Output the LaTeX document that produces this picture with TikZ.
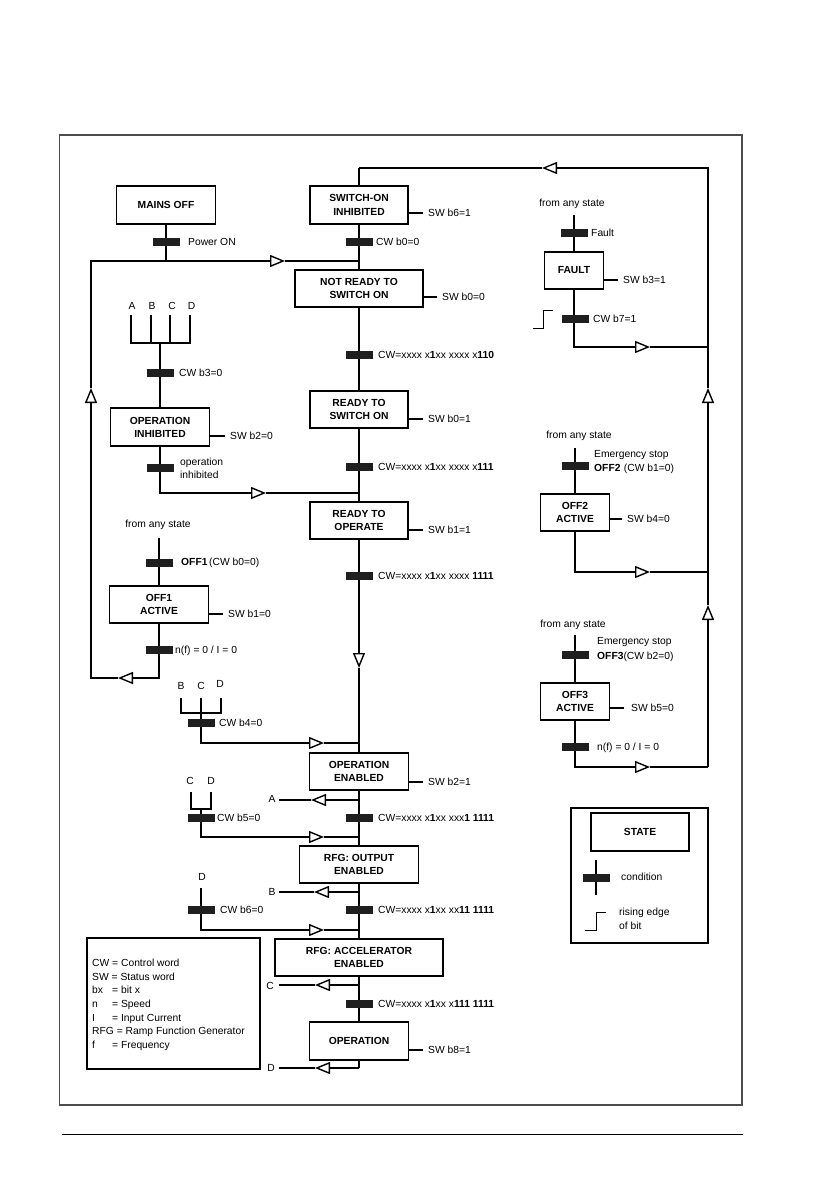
\documentclass[tikz,border=0pt]{standalone}
\usepackage{fontspec}
\setmainfont{Liberation Sans}
\usetikzlibrary{arrows.meta,calc}
\newcommand{\dgfont}{\fontsize{10.3}{13.2}\selectfont}
\begin{document}
\begin{tikzpicture}[x=1pt,y=-1pt,
  every node/.style={font=\dgfont},
  box/.style={draw,line width=1.9pt,font=\dgfont\bfseries,align=center,inner sep=0pt},
  cond/.style={fill=black!88,minimum width=27pt,minimum height=8pt,inner sep=0pt},
  lbl/.style={anchor=west,inner sep=0pt,text height=7.2pt,text depth=0pt},
  ctr/.style={inner sep=0pt,text height=7.2pt,text depth=0pt},
  swl/.style={anchor=west,inner xsep=5pt,inner ysep=0pt,text height=7.2pt,text depth=0pt},
  ln/.style={line width=1.7pt},
  thn/.style={line width=1.2pt},
  tri/.style={-{Triangle[open,length=15pt,width=12pt,line width=1.4pt]}},
]
\useasboundingbox (0,0) rectangle (839,1191);
% frame and footer
\draw[line width=1.5pt,black!70] (59.5,135) rectangle (742,1105);
\draw[line width=1pt] (62,1134) -- (743,1134);

% ---------- state boxes
\node[box,minimum width=99pt,minimum height=38pt] (mainsoff) at (166,205) {MAINS OFF};
\node[box,minimum width=98pt,minimum height=38pt] (soi) at (359,205) {SWITCH-ON\\INHIBITED};
\node[box,minimum width=128pt,minimum height=37pt] (nrsw) at (359,288.5) {NOT READY TO\\SWITCH ON};
\node[box,minimum width=98pt,minimum height=37pt] (rsw) at (359,409.5) {READY TO\\SWITCH ON};
\node[box,minimum width=99pt,minimum height=38pt] (opinh) at (160,427) {OPERATION\\INHIBITED};
\node[box,minimum width=98pt,minimum height=37pt] (rto) at (359,520.5) {READY TO\\OPERATE};
\node[box,minimum width=99pt,minimum height=37pt] (off1) at (159,604.5) {OFF1\\ACTIVE};
\node[box,minimum width=59pt,minimum height=37pt] (fault) at (574,270.5) {FAULT};
\node[box,minimum width=69pt,minimum height=37pt] (off2) at (575,512.5) {OFF2\\ACTIVE};
\node[box,minimum width=69pt,minimum height=37pt] (off3) at (575,701.5) {OFF3\\ACTIVE};
\node[box,minimum width=99pt,minimum height=37pt] (opena) at (359,771.5) {OPERATION\\ENABLED};
\node[box,minimum width=119pt,minimum height=37pt] (rfgout) at (359,864.5) {RFG: OUTPUT\\ENABLED};
\node[box,minimum width=168pt,minimum height=37pt] (rfgacc) at (359,957.5) {RFG: ACCELERATOR\\ENABLED};
\node[box,minimum width=99pt,minimum height=38pt] (oper) at (359,1041) {OPERATION};

% ---------- coordinates
\coordinate (top) at (359,168);
\coordinate (tr) at (708,168);
\coordinate (ta) at (542,168);
\coordinate (ra2) at (708,388);
\coordinate (ra1) at (708,605);
\coordinate (r3) at (708,767);
\coordinate (dtip) at (359,668);
\coordinate (dend) at (359,1068);

% ---------- main vertical line
\draw[ln] (top) -- (soi.north);
\draw[ln] (soi.south) -- (nrsw.north);
\draw[ln] (nrsw.south) -- (rsw.north);
\draw[ln] (rsw.south) -- (rto.north);
\draw[ln,tri] (rto.south) -- (dtip);
\draw[ln] (dtip) -- (opena.north);
\draw[ln] (opena.south) -- (rfgout.north);
\draw[ln] (rfgout.south) -- (rfgacc.north);
\draw[ln] (rfgacc.south) -- (oper.north);
\draw[ln] (oper.south) -- (dend);

% ---------- right return loop
\draw[ln,tri] (r3) -- (ra1);
\draw[ln,tri] (ra1) -- (ra2);
\draw[ln,tri] (ra2) -- (tr) -- (ta);
\draw[ln] (ta) -- (top);

% ---------- left return loop (OFF1 -> NOT READY)
\coordinate (o1b) at (159,678);
\coordinate (o1t) at (118,678);
\coordinate (lb) at (91,678);
\coordinate (lt) at (91,388);
\coordinate (lc) at (91,261);
\coordinate (ht) at (285,261);
\coordinate (hj) at (359,261);
\coordinate (mj) at (166,261);
\draw[ln,tri] (off1.south) -- (o1b) -- (o1t);
\draw[ln,tri] (o1t) -- (lb) -- (lt);
\draw[ln,tri] (lt) -- (lc) -- (ht);
\draw[ln] (ht) -- (hj);
\draw[ln] (mainsoff.south) -- (mj);

% ---------- ABCD -> operation inhibited
\coordinate (a1) at (131,315); \coordinate (a2) at (131,343);
\coordinate (b1) at (151,315); \coordinate (b2) at (151,343);
\coordinate (cc1) at (170,315); \coordinate (cc2) at (170,343);
\coordinate (d1) at (190,315); \coordinate (d2) at (190,343);
\coordinate (abj) at (160,343);
\draw[thn] (a1) -- (a2) -- (d2) -- (d1);
\draw[thn] (b1) -- (b2);
\draw[thn] (cc1) -- (cc2);
\draw[ln] (abj) -- (opinh.north);
\node[ctr] (tA) at (132,306) {A};
\node[ctr] (tB) at (152,306) {B};
\node[ctr] (tC) at (172,306) {C};
\node[ctr] (tD) at (191.5,306) {D};

\coordinate (oib) at (160,493);
\coordinate (oit) at (266,493);
\coordinate (oij) at (359,493);
\draw[ln,tri] (opinh.south) -- (oib) -- (oit);
\draw[ln] (oit) -- (oij);

% ---------- OFF1 entry
\node[ctr] (fas1) at (158,524) {from any state};
\coordinate (o1s) at (159,538);
\draw[ln] (o1s) -- (off1.north);

% ---------- BCD -> operation enabled (b4)
\coordinate (e1) at (181,698); \coordinate (e2) at (181,713);
\coordinate (f1) at (201,698);
\coordinate (g1) at (221,698); \coordinate (g2) at (221,713);
\coordinate (fj) at (201,713);
\coordinate (fb) at (201,743);
\coordinate (ft) at (324,743);
\coordinate (fm) at (359,743);
\draw[thn] (e1) -- (e2) -- (g2) -- (g1);
\draw[thn] (f1) -- (fj);
\draw[ln,tri] (fj) -- (fb) -- (ft);
\draw[ln] (ft) -- (fm);
\node[ctr] (tB2) at (181,686) {B};
\node[ctr] (tC2) at (201,686) {C};
\node[ctr] (tD2) at (220,684) {D};

% ---------- CD -> RFG output (b5)
\coordinate (h1) at (191,792); \coordinate (h2) at (191,809);
\coordinate (k1) at (211,792); \coordinate (k2) at (211,809);
\coordinate (hj2) at (201,809);
\coordinate (hb) at (201,837);
\coordinate (ht2) at (324,837);
\coordinate (hm) at (359,837);
\draw[thn] (h1) -- (h2) -- (k2) -- (k1);
\draw[ln,tri] (hj2) -- (hb) -- (ht2);
\draw[ln] (ht2) -- (hm);
\node[ctr] (tC3) at (190,781) {C};
\node[ctr] (tD3) at (211,781) {D};

% ---------- D -> RFG accelerator (b6)
\coordinate (m1) at (201,888);
\coordinate (mb) at (201,930);
\coordinate (mt) at (324,930);
\coordinate (mm) at (359,930);
\draw[ln,tri] (m1) -- (mb) -- (mt);
\draw[ln] (mt) -- (mm);
\node[ctr] (tD4) at (202,877) {D};

% ---------- exits A B C D
\coordinate (xa) at (359,800); \coordinate (xat) at (311,800); \coordinate (xae) at (279,800);
\coordinate (xb) at (359,892); \coordinate (xbt) at (314,892); \coordinate (xbe) at (279,892);
\coordinate (xc) at (359,985); \coordinate (xct) at (315,985); \coordinate (xce) at (279,985);
\coordinate (xdt) at (315,1068); \coordinate (xde) at (279,1068);
\draw[ln,tri] (xa) -- (xat); \draw[ln] (xat) -- (xae);
\draw[thn,tri] (xb) -- (xbt); \draw[thn] (xbt) -- (xbe);
\draw[ln,tri] (xc) -- (xct); \draw[ln] (xct) -- (xce);
\draw[ln,tri] (dend) -- (xdt); \draw[ln] (xdt) -- (xde);
\node[ctr] (lA) at (272,799) {A};
\node[ctr] (lB) at (272,892) {B};
\node[ctr] (lC) at (270,986) {C};
\node[ctr] (lD) at (271,1068) {D};

% ---------- fault branch
\node[ctr] (fas2) at (572,203) {from any state};
\coordinate (fs) at (574,215);
\coordinate (fb2) at (574,347);
\coordinate (fbt) at (650,347);
\coordinate (fbr) at (708,347);
\draw[ln] (fs) -- (fault.north);
\draw[ln,tri] (fault.south) -- (fb2) -- (fbt);
\draw[ln] (fbt) -- (fbr);
\draw[line width=0.9pt] (533,328) -- (543,328) -- (543,310) -- (553,310);

% ---------- OFF2 branch
\node[ctr] (fas3) at (579,435) {from any state};
\coordinate (o2s) at (575,448);
\coordinate (o2b) at (575,572);
\coordinate (o2t) at (650,572);
\coordinate (o2r) at (708,572);
\draw[ln] (o2s) -- (off2.north);
\draw[ln,tri] (off2.south) -- (o2b) -- (o2t);
\draw[ln] (o2t) -- (o2r);

% ---------- OFF3 branch
\node[ctr] (fas4) at (573,624) {from any state};
\coordinate (o3s) at (575,635);
\coordinate (o3b) at (575,767);
\coordinate (o3t) at (650,767);
\draw[ln] (o3s) -- (off3.north);
\draw[ln,tri] (off3.south) -- (o3b) -- (o3t);
\draw[ln] (o3t) -- (r3);

% ---------- condition bars
\node[cond] (c1) at (359,242) {};
\node[cond] (c2) at (359,355) {};
\node[cond] (c3) at (359,467) {};
\node[cond] (c4) at (359,576) {};
\node[cond] (c5) at (359,818) {};
\node[cond] (c6) at (359,910) {};
\node[cond] (c7) at (359,1004) {};
\node[cond] (cpw) at (166,242) {};
\node[cond] (cb3) at (160,373) {};
\node[cond] (coi) at (160,468) {};
\node[cond] (coff1) at (159,563) {};
\node[cond] (cnf1) at (159,650) {};
\node[cond] (cb4) at (201,723) {};
\node[cond] (cb5) at (201,818) {};
\node[cond] (cb6) at (201,910) {};
\node[cond] (cft) at (574,233) {};
\node[cond] (cb7) at (575,319) {};
\node[cond] (coff2) at (575,466) {};
\node[cond] (coff3) at (575,655) {};
\node[cond] (cnf3) at (575,747) {};

% ---------- condition labels
\node[lbl] (tc1) at (376,242) {CW b0=0};
\node[lbl] (tc2) at (378,355) {CW=xxxx x\textbf{1}xx xxxx x\textbf{110}};
\node[lbl] (tc3) at (378,467) {CW=xxxx x\textbf{1}xx xxxx x\textbf{111}};
\node[lbl] (tc4) at (378,576) {CW=xxxx x\textbf{1}xx xxxx \textbf{1111}};
\node[lbl] (tc5) at (378,818) {CW=xxxx x\textbf{1}xx xxx\textbf{1} \textbf{1111}};
\node[lbl] (tc6) at (378,910) {CW=xxxx x\textbf{1}xx xx\textbf{11} \textbf{1111}};
\node[lbl] (tc7) at (378,1004) {CW=xxxx x\textbf{1}xx x\textbf{111} \textbf{1111}};
\node[lbl] (tpw) at (188,242) {Power ON};
\node[lbl] (tb3) at (179,373) {CW b3=0};
\node[lbl] (toi1) at (180,462) {operation};
\node[lbl] (toi2) at (180,475) {inhibited};
\node[lbl] (toff1) at (181,562) {\textbf{OFF1}\,(CW b0=0)};
\node[lbl] (tnf1) at (175,650) {n(f) = 0 / I = 0};
\node[lbl] (tb4) at (219,723) {CW b4=0};
\node[lbl] (tb5) at (217,818) {CW b5=0};
\node[lbl] (tb6) at (220,910) {CW b6=0};
\node[lbl] (tft) at (591,233) {Fault};
\node[lbl] (tb7) at (593,319) {CW b7=1};
\node[lbl] (te2) at (594,454) {Emergency stop};
\node[lbl] (toff2) at (594,468) {\textbf{OFF2}\,\,(CW b1=0)};
\node[lbl] (te3) at (597,641) {Emergency stop};
\node[lbl] (toff3) at (597,656) {\textbf{OFF3}(CW b2=0)};
\node[lbl] (tnf3) at (597,747) {n(f) = 0 / I = 0};

% ---------- status word labels with ticks
\node[swl] (s1) at (423,213) {SW b6=1};
\node[swl] (s2) at (437,297) {SW b0=0};
\node[swl] (s3) at (423,419) {SW b0=1};
\node[swl] (s4) at (225,436) {SW b2=0};
\node[swl] (s5) at (423,530) {SW b1=1};
\node[swl] (s6) at (223,614) {SW b1=0};
\node[swl] (s7) at (618,280) {SW b3=1};
\node[swl] (s8) at (622,519) {SW b4=0};
\node[swl,inner xsep=7pt] (s9) at (624,708) {SW b5=0};
\node[swl] (s10) at (423,782) {SW b2=1};
\node[swl] (s11) at (423,1050) {SW b8=1};
\draw[ln] (soi.east |- s1.west) -- (s1.west);
\draw[ln] (nrsw.east |- s2.west) -- (s2.west);
\draw[ln] (rsw.east |- s3.west) -- (s3.west);
\draw[ln] (opinh.east |- s4.west) -- (s4.west);
\draw[ln] (rto.east |- s5.west) -- (s5.west);
\draw[ln] (off1.east |- s6.west) -- (s6.west);
\draw[ln] (fault.east |- s7.west) -- (s7.west);
\draw[ln] (off2.east |- s8.west) -- (s8.west);
\draw[ln] (off3.east |- s9.west) -- (s9.west);
\draw[ln] (opena.east |- s10.west) -- (s10.west);
\draw[ln] (oper.east |- s11.west) -- (s11.west);

% ---------- abbreviation legend
\draw[line width=1.6pt] (87,938) rectangle (260,1069);
\node[lbl] (l1) at (92,963) {CW = Control word};
\node[lbl] (l2) at (92,976.7) {SW = Status word};
\node[lbl] (l3) at (92,990.3) {\makebox[20pt][l]{bx}= bit x};
\node[lbl] (l4) at (92,1004) {\makebox[20pt][l]{n}= Speed};
\node[lbl] (l5) at (92,1017.7) {\makebox[20pt][l]{I}= Input Current};
\node[lbl] (l6) at (92,1031.3) {RFG = Ramp Function Generator};
\node[lbl] (l7) at (92,1045) {\makebox[20pt][l]{f}= Frequency};

% ---------- symbol legend
\draw[line width=1.6pt] (571,808) rectangle (708,943);
\node[box,minimum width=98pt,minimum height=38pt] (stbox) at (640,832) {STATE};
\coordinate (sy1) at (596,860);
\coordinate (sy2) at (596,895);
\draw[ln] (sy1) -- (sy2);
\node[cond] (csym) at (596,878) {};
\node[lbl] (tcond) at (621,877) {condition};
\draw[line width=0.9pt] (585,930) -- (596,930) -- (596,912) -- (606,912);
\node[lbl] (tre1) at (619,912) {rising edge};
\node[lbl] (tre2) at (619,926) {of bit};
\end{tikzpicture}
\end{document}
